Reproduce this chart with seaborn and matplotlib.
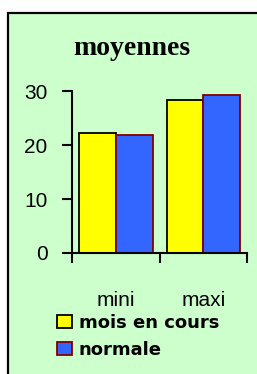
import matplotlib
matplotlib.use('Agg')
import matplotlib.pyplot as plt
import numpy as np
import pandas as pd
import seaborn as sns
from matplotlib.patches import Rectangle, Patch

# data
categories = ['mini', 'maxi']
series = ['mois en cours', 'normale']
mois_en_cours = [22.2, 28.4]
normale = [21.9, 29.2]
yticks = [0, 10, 20, 30]

fills = {'mois en cours': '#FFFF00', 'normale': '#3366FF'}
edges = {'mois en cours': '#000000', 'normale': '#800000'}

df = pd.DataFrame({
    'cat': categories * 2,
    'serie': [series[0]] * 2 + [series[1]] * 2,
    'val': mois_en_cours + normale,
})

sns.set_style('white')
plt.rcParams['font.family'] = ['Liberation Sans', 'DejaVu Sans']
plt.rcParams['text.color'] = 'black'
plt.rcParams['xtick.color'] = 'black'
plt.rcParams['ytick.color'] = 'black'

fig = plt.figure(figsize=(2.57, 3.74), dpi=100, facecolor='white')

# green panel with black border, running off right/bottom
fig.patches.append(Rectangle((8 / 257, -0.05), 1.1, 1 - 12.5 / 374 + 0.05,
                             transform=fig.transFigure, facecolor='#CCFFCC',
                             edgecolor='black', linewidth=1.6, zorder=-5))

ax = fig.add_axes([72 / 257, 1 - 253 / 374, 175 / 257, 162 / 374])
ax.set_facecolor('none')
ax.set_zorder(2)

sns.barplot(data=df, x='cat', y='val', hue='serie', order=categories,
            hue_order=series, palette=fills, width=0.84, legend=False,
            saturation=1, ax=ax)

for cont, s in zip(ax.containers, series):
    for bar in cont:
        bar.set_edgecolor(edges[s])
        bar.set_linewidth(1.3)

ax.set_xlim(-0.5, 1.5)
ax.set_ylim(0, 30)
ax.set_yticks(yticks)
ax.set_yticklabels([str(t) for t in yticks], fontsize=15)
ax.set_xlabel('')
ax.set_ylabel('')

for side in ['top', 'right']:
    ax.spines[side].set_visible(False)
for side in ['left', 'bottom']:
    ax.spines[side].set_color('black')
    ax.spines[side].set_linewidth(1.5)

ax.tick_params(axis='y', left=True, direction='out', length=7.5, width=1.5,
               pad=10, colors='black', labelcolor='black')
ax.set_xticks([0, 1])
ax.set_xticklabels(categories, fontsize=15)
ax.tick_params(axis='x', which='major', length=0, pad=27, labelcolor='black')
ax.set_xticks([-0.5, 0.5, 1.5], minor=True)
ax.tick_params(axis='x', which='minor', bottom=True, direction='out',
               length=7.5, width=1.5, colors='black')

fig.text(132 / 257, 1 - 55 / 374, 'moyennes', ha='center', va='baseline',
         fontsize=20, fontweight='bold', color='black',
         family=['Liberation Serif', 'DejaVu Serif'])

handles = [Patch(facecolor=fills[s], edgecolor=edges[s], linewidth=1.3) for s in series]
leg = fig.legend(handles, series, loc='upper left',
                 bbox_to_anchor=(57 / 257, 1 - 314 / 374), frameon=False,
                 borderpad=0, borderaxespad=0, handlelength=0.85, handleheight=0.7,
                 handletextpad=0.35, labelspacing=0.5,
                 prop={'family': 'DejaVu Sans', 'weight': 'bold', 'size': 13})
for t in leg.get_texts():
    t.set_color('black')

fig.savefig('out.png', dpi=100, facecolor='white')
